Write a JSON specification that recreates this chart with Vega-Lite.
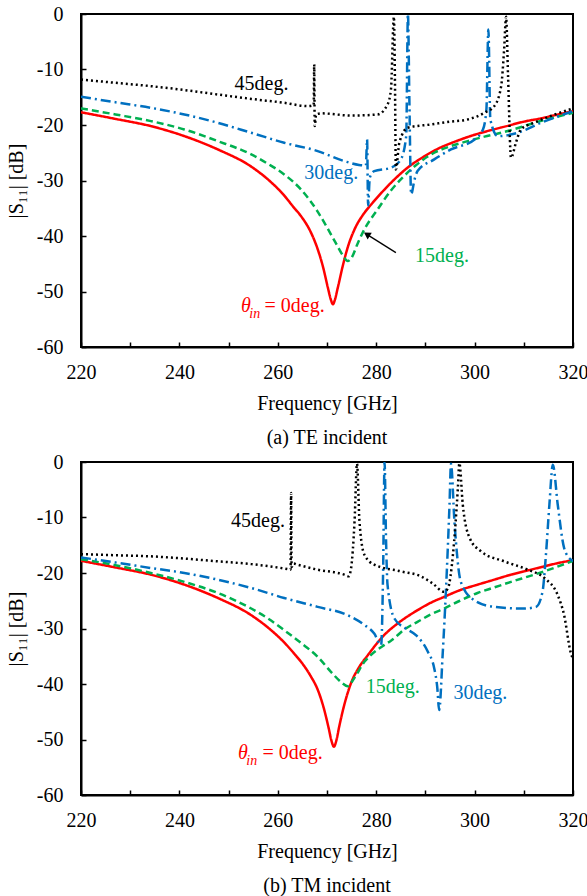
{
  "$schema": "https://vega.github.io/schema/vega-lite/v6.json",
  "padding": {"left": 5, "top": 3, "right": 5, "bottom": 3},
  "background": "white",
  "spacing": 2,
  "datasets": {
    "curves": [
      {"p":"TE","s":"0deg","f":220,"v":-17.7},{"p":"TE","s":"0deg","f":227,"v":-18.9},{"p":"TE","s":"0deg","f":234.2,"v":-20.2},{"p":"TE","s":"0deg","f":241,"v":-22.0},{"p":"TE","s":"0deg","f":247.8,"v":-24.4},{"p":"TE","s":"0deg","f":254.6,"v":-27.5},{"p":"TE","s":"0deg","f":258.5,"v":-30.2},{"p":"TE","s":"0deg","f":261.2,"v":-32.6},{"p":"TE","s":"0deg","f":263.2,"v":-34.8},{"p":"TE","s":"0deg","f":264.7,"v":-36.4},{"p":"TE","s":"0deg","f":266.7,"v":-39.3},{"p":"TE","s":"0deg","f":268,"v":-42.1},{"p":"TE","s":"0deg","f":269.2,"v":-45.6},{"p":"TE","s":"0deg","f":270.2,"v":-49.4},{"p":"TE","s":"0deg","f":270.8,"v":-51.5},{"p":"TE","s":"0deg","f":271.2,"v":-52.3},{"p":"TE","s":"0deg","f":271.6,"v":-51.5},{"p":"TE","s":"0deg","f":272.2,"v":-49.3},{"p":"TE","s":"0deg","f":273.2,"v":-45.4},{"p":"TE","s":"0deg","f":274.3,"v":-41.8},{"p":"TE","s":"0deg","f":275.6,"v":-38.8},{"p":"TE","s":"0deg","f":277.3,"v":-36.2},{"p":"TE","s":"0deg","f":279,"v":-34.3},{"p":"TE","s":"0deg","f":281.5,"v":-31.8},{"p":"TE","s":"0deg","f":283.7,"v":-29.8},{"p":"TE","s":"0deg","f":286.5,"v":-27.6},{"p":"TE","s":"0deg","f":289.5,"v":-25.8},{"p":"TE","s":"0deg","f":292.5,"v":-24.3},{"p":"TE","s":"0deg","f":296,"v":-23.0},{"p":"TE","s":"0deg","f":299.5,"v":-21.9},{"p":"TE","s":"0deg","f":303,"v":-21.0},{"p":"TE","s":"0deg","f":306.5,"v":-20.2},{"p":"TE","s":"0deg","f":310,"v":-19.4},{"p":"TE","s":"0deg","f":313.5,"v":-18.8},{"p":"TE","s":"0deg","f":317,"v":-18.1},{"p":"TE","s":"0deg","f":320,"v":-17.5},

      {"p":"TE","s":"15deg","f":220,"v":-17.0},{"p":"TE","s":"15deg","f":227,"v":-18.1},{"p":"TE","s":"15deg","f":234.2,"v":-19.3},{"p":"TE","s":"15deg","f":241,"v":-20.8},{"p":"TE","s":"15deg","f":247.8,"v":-22.9},{"p":"TE","s":"15deg","f":254.6,"v":-25.3},{"p":"TE","s":"15deg","f":258,"v":-27.0},{"p":"TE","s":"15deg","f":261.3,"v":-28.9},{"p":"TE","s":"15deg","f":264.7,"v":-31.6},{"p":"TE","s":"15deg","f":268.1,"v":-35.6},{"p":"TE","s":"15deg","f":270.1,"v":-38.6},{"p":"TE","s":"15deg","f":272.0,"v":-41.6},{"p":"TE","s":"15deg","f":273.3,"v":-43.6},{"p":"TE","s":"15deg","f":274.2,"v":-44.5},{"p":"TE","s":"15deg","f":275,"v":-43.9},{"p":"TE","s":"15deg","f":276.3,"v":-41.2},{"p":"TE","s":"15deg","f":277.6,"v":-38.8},{"p":"TE","s":"15deg","f":280.3,"v":-35.2},{"p":"TE","s":"15deg","f":283,"v":-31.8},{"p":"TE","s":"15deg","f":285,"v":-29.8},{"p":"TE","s":"15deg","f":288,"v":-27.3},{"p":"TE","s":"15deg","f":291.8,"v":-25.0},{"p":"TE","s":"15deg","f":295.2,"v":-23.8},{"p":"TE","s":"15deg","f":298.6,"v":-22.9},{"p":"TE","s":"15deg","f":302,"v":-22.1},{"p":"TE","s":"15deg","f":305.4,"v":-21.4},{"p":"TE","s":"15deg","f":309,"v":-20.5},{"p":"TE","s":"15deg","f":312.1,"v":-19.6},{"p":"TE","s":"15deg","f":316,"v":-18.7},{"p":"TE","s":"15deg","f":320,"v":-17.8},

      {"p":"TE","s":"30deg","f":220,"v":-14.9},{"p":"TE","s":"30deg","f":227,"v":-15.9},{"p":"TE","s":"30deg","f":234.2,"v":-16.9},{"p":"TE","s":"30deg","f":241,"v":-18.1},{"p":"TE","s":"30deg","f":247.8,"v":-19.6},{"p":"TE","s":"30deg","f":254.6,"v":-21.4},{"p":"TE","s":"30deg","f":261.3,"v":-23.2},{"p":"TE","s":"30deg","f":268.1,"v":-24.7},{"p":"TE","s":"30deg","f":273.5,"v":-26.5},{"p":"TE","s":"30deg","f":276.5,"v":-27.2},{"p":"TE","s":"30deg","f":277.9,"v":-27.3},{"p":"TE","s":"30deg","f":278.15,"v":-22.6},{"p":"TE","s":"30deg","f":278.35,"v":-34.5},{"p":"TE","s":"30deg","f":278.7,"v":-29.5},{"p":"TE","s":"30deg","f":279.6,"v":-28.3},{"p":"TE","s":"30deg","f":283,"v":-27.7},{"p":"TE","s":"30deg","f":285,"v":-26.2},{"p":"TE","s":"30deg","f":286.1,"v":-22.0},{"p":"TE","s":"30deg","f":286.45,"v":0},{"p":"TE","s":"30deg","f":286.75,"v":-16},{"p":"TE","s":"30deg","f":287.1,"v":-32.5},{"p":"TE","s":"30deg","f":287.8,"v":-29.8},{"p":"TE","s":"30deg","f":288.4,"v":-28.3},{"p":"TE","s":"30deg","f":291.8,"v":-26.2},{"p":"TE","s":"30deg","f":295.2,"v":-24.4},{"p":"TE","s":"30deg","f":300,"v":-22.6},{"p":"TE","s":"30deg","f":301.7,"v":-20.8},{"p":"TE","s":"30deg","f":302.4,"v":-17.2},{"p":"TE","s":"30deg","f":302.8,"v":-2.8},{"p":"TE","s":"30deg","f":303.2,"v":-19.0},{"p":"TE","s":"30deg","f":304.7,"v":-22.0},{"p":"TE","s":"30deg","f":308.8,"v":-21.4},{"p":"TE","s":"30deg","f":313.5,"v":-19.6},{"p":"TE","s":"30deg","f":320,"v":-17.5},

      {"p":"TE","s":"45deg","f":220,"v":-11.8},{"p":"TE","s":"45deg","f":227,"v":-12.4},{"p":"TE","s":"45deg","f":234.2,"v":-13.0},{"p":"TE","s":"45deg","f":241,"v":-13.7},{"p":"TE","s":"45deg","f":247.8,"v":-14.5},{"p":"TE","s":"45deg","f":254.6,"v":-15.3},{"p":"TE","s":"45deg","f":261.3,"v":-16.0},{"p":"TE","s":"45deg","f":266.1,"v":-16.6},{"p":"TE","s":"45deg","f":267.3,"v":-16.4},{"p":"TE","s":"45deg","f":267.4,"v":-9.1},{"p":"TE","s":"45deg","f":267.5,"v":-20.2},{"p":"TE","s":"45deg","f":267.8,"v":-18.1},{"p":"TE","s":"45deg","f":268.8,"v":-17.9},{"p":"TE","s":"45deg","f":274.9,"v":-18.3},{"p":"TE","s":"45deg","f":280.3,"v":-18.1},{"p":"TE","s":"45deg","f":282.3,"v":-16.3},{"p":"TE","s":"45deg","f":283,"v":-13.6},{"p":"TE","s":"45deg","f":283.6,"v":-0.5},{"p":"TE","s":"45deg","f":283.8,"v":-11.2},{"p":"TE","s":"45deg","f":284,"v":-28.0},{"p":"TE","s":"45deg","f":284.7,"v":-23.2},{"p":"TE","s":"45deg","f":286.4,"v":-20.5},{"p":"TE","s":"45deg","f":291.1,"v":-19.9},{"p":"TE","s":"45deg","f":295,"v":-19.4},{"p":"TE","s":"45deg","f":298.6,"v":-19.0},{"p":"TE","s":"45deg","f":302,"v":-17.8},{"p":"TE","s":"45deg","f":304,"v":-16.6},{"p":"TE","s":"45deg","f":305.4,"v":-13.0},{"p":"TE","s":"45deg","f":306,"v":-6.4},{"p":"TE","s":"45deg","f":306.4,"v":-0.5},{"p":"TE","s":"45deg","f":306.8,"v":-11.2},{"p":"TE","s":"45deg","f":307.4,"v":-25.9},{"p":"TE","s":"45deg","f":308.4,"v":-23.2},{"p":"TE","s":"45deg","f":309.4,"v":-20.8},{"p":"TE","s":"45deg","f":312.1,"v":-19.6},{"p":"TE","s":"45deg","f":316,"v":-18.2},{"p":"TE","s":"45deg","f":320,"v":-17.0},

      {"p":"TM","s":"0deg","f":220,"v":-17.8},{"p":"TM","s":"0deg","f":227,"v":-19.0},{"p":"TM","s":"0deg","f":234.2,"v":-20.3},{"p":"TM","s":"0deg","f":241,"v":-22.1},{"p":"TM","s":"0deg","f":247.8,"v":-24.5},{"p":"TM","s":"0deg","f":254.6,"v":-27.6},{"p":"TM","s":"0deg","f":258.5,"v":-30.2},{"p":"TM","s":"0deg","f":261.4,"v":-32.6},{"p":"TM","s":"0deg","f":263.4,"v":-34.6},{"p":"TM","s":"0deg","f":264.9,"v":-36.2},{"p":"TM","s":"0deg","f":266.7,"v":-38.6},{"p":"TM","s":"0deg","f":268.1,"v":-41.0},{"p":"TM","s":"0deg","f":269.3,"v":-44.2},{"p":"TM","s":"0deg","f":270.3,"v":-47.8},{"p":"TM","s":"0deg","f":270.9,"v":-50.2},{"p":"TM","s":"0deg","f":271.4,"v":-51.3},{"p":"TM","s":"0deg","f":271.9,"v":-50.2},{"p":"TM","s":"0deg","f":272.5,"v":-47.6},{"p":"TM","s":"0deg","f":273.5,"v":-43.8},{"p":"TM","s":"0deg","f":274.9,"v":-39.8},{"p":"TM","s":"0deg","f":276.5,"v":-37.0},{"p":"TM","s":"0deg","f":278.3,"v":-34.8},{"p":"TM","s":"0deg","f":281.6,"v":-31.2},{"p":"TM","s":"0deg","f":284.5,"v":-29.0},{"p":"TM","s":"0deg","f":288.4,"v":-26.7},{"p":"TM","s":"0deg","f":291,"v":-25.4},{"p":"TM","s":"0deg","f":293.8,"v":-24.3},{"p":"TM","s":"0deg","f":297,"v":-23.1},{"p":"TM","s":"0deg","f":300.6,"v":-22.1},{"p":"TM","s":"0deg","f":304,"v":-21.2},{"p":"TM","s":"0deg","f":307.4,"v":-20.3},{"p":"TM","s":"0deg","f":311,"v":-19.5},{"p":"TM","s":"0deg","f":314.2,"v":-18.8},{"p":"TM","s":"0deg","f":317,"v":-18.2},{"p":"TM","s":"0deg","f":320,"v":-17.7},

      {"p":"TM","s":"15deg","f":220,"v":-17.5},{"p":"TM","s":"15deg","f":227,"v":-18.6},{"p":"TM","s":"15deg","f":234.2,"v":-20.0},{"p":"TM","s":"15deg","f":241,"v":-21.6},{"p":"TM","s":"15deg","f":247.8,"v":-23.6},{"p":"TM","s":"15deg","f":254.6,"v":-26.4},{"p":"TM","s":"15deg","f":258,"v":-28.2},{"p":"TM","s":"15deg","f":261.3,"v":-30.3},{"p":"TM","s":"15deg","f":264.7,"v":-32.6},{"p":"TM","s":"15deg","f":268.1,"v":-35.1},{"p":"TM","s":"15deg","f":270.8,"v":-37.8},{"p":"TM","s":"15deg","f":272.8,"v":-39.6},{"p":"TM","s":"15deg","f":274.2,"v":-40.4},{"p":"TM","s":"15deg","f":275.5,"v":-39.0},{"p":"TM","s":"15deg","f":277.6,"v":-36.0},{"p":"TM","s":"15deg","f":278.9,"v":-34.8},{"p":"TM","s":"15deg","f":281.6,"v":-33.0},{"p":"TM","s":"15deg","f":283,"v":-32.2},{"p":"TM","s":"15deg","f":286,"v":-30.0},{"p":"TM","s":"15deg","f":288.4,"v":-28.8},{"p":"TM","s":"15deg","f":291,"v":-27.5},{"p":"TM","s":"15deg","f":293.8,"v":-26.4},{"p":"TM","s":"15deg","f":297,"v":-25.0},{"p":"TM","s":"15deg","f":300.6,"v":-23.6},{"p":"TM","s":"15deg","f":304,"v":-22.6},{"p":"TM","s":"15deg","f":307.4,"v":-21.6},{"p":"TM","s":"15deg","f":311,"v":-20.6},{"p":"TM","s":"15deg","f":314.2,"v":-19.7},{"p":"TM","s":"15deg","f":317,"v":-18.8},{"p":"TM","s":"15deg","f":320,"v":-17.8},

      {"p":"TM","s":"30deg","f":220,"v":-17.2},{"p":"TM","s":"30deg","f":227,"v":-18.1},{"p":"TM","s":"30deg","f":234.2,"v":-19.1},{"p":"TM","s":"30deg","f":241,"v":-20.0},{"p":"TM","s":"30deg","f":247.8,"v":-21.2},{"p":"TM","s":"30deg","f":254.6,"v":-22.7},{"p":"TM","s":"30deg","f":261.3,"v":-24.5},{"p":"TM","s":"30deg","f":268.1,"v":-26.1},{"p":"TM","s":"30deg","f":274.2,"v":-27.6},{"p":"TM","s":"30deg","f":277.5,"v":-29.3},{"p":"TM","s":"30deg","f":279.6,"v":-30.9},{"p":"TM","s":"30deg","f":281,"v":-33.0},{"p":"TM","s":"30deg","f":281.4,"v":-20},{"p":"TM","s":"30deg","f":281.7,"v":0},{"p":"TM","s":"30deg","f":282,"v":-14},{"p":"TM","s":"30deg","f":282.3,"v":-22.1},{"p":"TM","s":"30deg","f":283.7,"v":-28.2},{"p":"TM","s":"30deg","f":286,"v":-30.0},{"p":"TM","s":"30deg","f":288.2,"v":-31.3},{"p":"TM","s":"30deg","f":290.5,"v":-34.2},{"p":"TM","s":"30deg","f":291.8,"v":-37.2},{"p":"TM","s":"30deg","f":292.4,"v":-40.5},{"p":"TM","s":"30deg","f":292.8,"v":-44.7},{"p":"TM","s":"30deg","f":293.5,"v":-34.8},{"p":"TM","s":"30deg","f":294.2,"v":-22.7},{"p":"TM","s":"30deg","f":294.9,"v":-7.7},{"p":"TM","s":"30deg","f":295.2,"v":-0.3},{"p":"TM","s":"30deg","f":295.9,"v":-10.7},{"p":"TM","s":"30deg","f":297.2,"v":-21.6},{"p":"TM","s":"30deg","f":299.9,"v":-24.9},{"p":"TM","s":"30deg","f":304,"v":-26.1},{"p":"TM","s":"30deg","f":310.1,"v":-26.4},{"p":"TM","s":"30deg","f":312.5,"v":-26.1},{"p":"TM","s":"30deg","f":313.8,"v":-23.4},{"p":"TM","s":"30deg","f":314.5,"v":-16.7},{"p":"TM","s":"30deg","f":315.2,"v":-7.7},{"p":"TM","s":"30deg","f":315.9,"v":-0.5},{"p":"TM","s":"30deg","f":316.9,"v":-7.7},{"p":"TM","s":"30deg","f":318.2,"v":-15.5},{"p":"TM","s":"30deg","f":319.6,"v":-17.6},{"p":"TM","s":"30deg","f":320,"v":-17.8},

      {"p":"TM","s":"45deg","f":220,"v":-16.6},{"p":"TM","s":"45deg","f":227,"v":-16.8},{"p":"TM","s":"45deg","f":234.2,"v":-17.0},{"p":"TM","s":"45deg","f":241,"v":-17.4},{"p":"TM","s":"45deg","f":247.8,"v":-17.9},{"p":"TM","s":"45deg","f":254.6,"v":-18.4},{"p":"TM","s":"45deg","f":262,"v":-19.3},{"p":"TM","s":"45deg","f":262.6,"v":-19.4},{"p":"TM","s":"45deg","f":262.7,"v":-5.6},{"p":"TM","s":"45deg","f":262.8,"v":-18.9},{"p":"TM","s":"45deg","f":263.2,"v":-18.3},{"p":"TM","s":"45deg","f":264,"v":-18.5},{"p":"TM","s":"45deg","f":268.1,"v":-19.4},{"p":"TM","s":"45deg","f":273.5,"v":-20.3},{"p":"TM","s":"45deg","f":274.4,"v":-20.6},{"p":"TM","s":"45deg","f":274.9,"v":-19.1},{"p":"TM","s":"45deg","f":275.6,"v":-10.7},{"p":"TM","s":"45deg","f":276.1,"v":-0.3},{"p":"TM","s":"45deg","f":276.6,"v":-10.7},{"p":"TM","s":"45deg","f":277.6,"v":-16.7},{"p":"TM","s":"45deg","f":279.6,"v":-18.5},{"p":"TM","s":"45deg","f":285,"v":-19.7},{"p":"TM","s":"45deg","f":289.1,"v":-20.6},{"p":"TM","s":"45deg","f":291.5,"v":-21.9},{"p":"TM","s":"45deg","f":293.8,"v":-23.4},{"p":"TM","s":"45deg","f":294.6,"v":-22.7},{"p":"TM","s":"45deg","f":295.6,"v":-16.7},{"p":"TM","s":"45deg","f":296.6,"v":-4.7},{"p":"TM","s":"45deg","f":296.9,"v":-0.2},{"p":"TM","s":"45deg","f":297.6,"v":-7.7},{"p":"TM","s":"45deg","f":299,"v":-13.7},{"p":"TM","s":"45deg","f":301.3,"v":-16.1},{"p":"TM","s":"45deg","f":306,"v":-17.9},{"p":"TM","s":"45deg","f":310.8,"v":-19.4},{"p":"TM","s":"45deg","f":314.2,"v":-20.9},{"p":"TM","s":"45deg","f":316.9,"v":-24.0},{"p":"TM","s":"45deg","f":318.2,"v":-27.6},{"p":"TM","s":"45deg","f":319.5,"v":-34.2},{"p":"TM","s":"45deg","f":320,"v":-35.5}
    ],
    "labels": [
      {"p":"TE","s":"45deg","f":251.2,"v":-12.7,"t":"45deg."},
      {"p":"TE","s":"30deg","f":265.4,"v":-28.6,"t":"30deg."},
      {"p":"TE","s":"15deg","f":287.9,"v":-43.6,"t":"15deg."},
      {"p":"TE","s":"0deg","f":257.3,"v":-52.6,"t":"= 0deg."},
      {"p":"TM","s":"45deg","f":250.5,"v":-10.7,"t":"45deg."},
      {"p":"TM","s":"15deg","f":277.9,"v":-40.5,"t":"15deg."},
      {"p":"TM","s":"30deg","f":295.7,"v":-41.7,"t":"30deg."},
      {"p":"TM","s":"0deg","f":256.9,"v":-52.5,"t":"= 0deg."}
    ],
    "theta": [
      {"p":"TE","s":"0deg","f":252.5,"v":-52.6,"t":"θ"},
      {"p":"TM","s":"0deg","f":251.9,"v":-52.5,"t":"θ"}
    ],
    "sub": [
      {"p":"TE","s":"0deg","f":254.2,"v":-54.0,"t":"in"},
      {"p":"TM","s":"0deg","f":253.6,"v":-53.9,"t":"in"}
    ],
    "arrow": [
      {"p":"TE","f":284.0,"v":-43.0,"f2":278.1,"v2":-39.7}
    ]
  },
  "vconcat": [
    {
      "width": 492, "height": 333,
      "title": {"text": "(a) TE incident", "orient": "bottom", "offset": 15},
      "layer": [
        {"data": {"name": "curves"}, "transform": [{"filter": "datum.p == 'TE'"}], "mark": {"type": "line", "strokeWidth": 2.5, "interpolate": "monotone", "clip": true},
         "encoding": {
           "x": {"field": "f", "type": "quantitative", "scale": {"domain": [220, 320], "nice": false, "zero": false}, "axis": {"title": "Frequency [GHz]", "values": [220,230,240,250,260,270,280,290,300,310,320], "labelExpr": "datum.value % 20 == 0 ? '' + datum.value : ''", "labelPadding": 20, "titlePadding": 11}},
           "y": {"field": "v", "type": "quantitative", "scale": {"domain": [-60, 0], "nice": false, "zero": false}, "axis": {"title": "|S₁₁| [dB]", "values": [-60,-55,-50,-45,-40,-35,-30,-25,-20,-15,-10,-5,0], "labelExpr": "datum.value % 10 == 0 ? '' + datum.value : ''", "labelPadding": 23, "titlePadding": 10}},
           "color": {"field": "s", "type": "nominal", "scale": {"domain": ["0deg","15deg","30deg","45deg"], "range": ["#FF0000","#00B050","#0070C0","#000000"]}, "legend": null},
           "strokeDash": {"field": "s", "type": "nominal", "scale": {"domain": ["0deg","15deg","30deg","45deg"], "range": [[1,0],[7,4],[10,4,2,4],[2,3]]}, "legend": null}
         }},
        {"data": {"name": "labels"}, "transform": [{"filter": "datum.p == 'TE'"}], "mark": {"type": "text", "align": "left", "baseline": "middle", "fontSize": 20},
         "encoding": {"x": {"field": "f", "type": "quantitative"}, "y": {"field": "v", "type": "quantitative"}, "text": {"field": "t"}, "color": {"field": "s", "type": "nominal", "legend": null}}},
        {"data": {"name": "theta"}, "transform": [{"filter": "datum.p == 'TE'"}], "mark": {"type": "text", "align": "left", "baseline": "middle", "fontSize": 20, "fontStyle": "italic"},
         "encoding": {"x": {"field": "f", "type": "quantitative"}, "y": {"field": "v", "type": "quantitative"}, "text": {"field": "t"}, "color": {"field": "s", "type": "nominal", "legend": null}}},
        {"data": {"name": "sub"}, "transform": [{"filter": "datum.p == 'TE'"}], "mark": {"type": "text", "align": "left", "baseline": "middle", "fontSize": 14, "fontStyle": "italic"},
         "encoding": {"x": {"field": "f", "type": "quantitative"}, "y": {"field": "v", "type": "quantitative"}, "text": {"field": "t"}, "color": {"field": "s", "type": "nominal", "legend": null}}},
        {"data": {"name": "arrow"}, "transform": [{"filter": "datum.p == 'TE'"}], "mark": {"type": "rule", "color": "#000", "strokeWidth": 1.3},
         "encoding": {"x": {"field": "f", "type": "quantitative"}, "y": {"field": "v", "type": "quantitative"}, "x2": {"field": "f2"}, "y2": {"field": "v2"}}},
        {"data": {"name": "arrow"}, "transform": [{"filter": "datum.p == 'TE'"}], "mark": {"type": "point", "shape": "triangle-up", "filled": true, "color": "#000", "size": 60, "angle": 302, "opacity": 1},
         "encoding": {"x": {"field": "f2", "type": "quantitative"}, "y": {"field": "v2", "type": "quantitative"}}}
      ]
    },
    {
      "width": 492, "height": 333,
      "title": {"text": "(b) TM incident", "orient": "bottom", "offset": 15},
      "layer": [
        {"data": {"name": "curves"}, "transform": [{"filter": "datum.p == 'TM'"}], "mark": {"type": "line", "strokeWidth": 2.5, "interpolate": "monotone", "clip": true},
         "encoding": {
           "x": {"field": "f", "type": "quantitative", "scale": {"domain": [220, 320], "nice": false, "zero": false}, "axis": {"title": "Frequency [GHz]", "values": [220,230,240,250,260,270,280,290,300,310,320], "labelExpr": "datum.value % 20 == 0 ? '' + datum.value : ''", "labelPadding": 20, "titlePadding": 11}},
           "y": {"field": "v", "type": "quantitative", "scale": {"domain": [-60, 0], "nice": false, "zero": false}, "axis": {"title": "|S₁₁| [dB]", "values": [-60,-55,-50,-45,-40,-35,-30,-25,-20,-15,-10,-5,0], "labelExpr": "datum.value % 10 == 0 ? '' + datum.value : ''", "labelPadding": 23, "titlePadding": 10}},
           "color": {"field": "s", "type": "nominal", "scale": {"domain": ["0deg","15deg","30deg","45deg"], "range": ["#FF0000","#00B050","#0070C0","#000000"]}, "legend": null},
           "strokeDash": {"field": "s", "type": "nominal", "scale": {"domain": ["0deg","15deg","30deg","45deg"], "range": [[1,0],[7,4],[10,4,2,4],[2,3]]}, "legend": null}
         }},
        {"data": {"name": "labels"}, "transform": [{"filter": "datum.p == 'TM'"}], "mark": {"type": "text", "align": "left", "baseline": "middle", "fontSize": 20},
         "encoding": {"x": {"field": "f", "type": "quantitative"}, "y": {"field": "v", "type": "quantitative"}, "text": {"field": "t"}, "color": {"field": "s", "type": "nominal", "legend": null}}},
        {"data": {"name": "theta"}, "transform": [{"filter": "datum.p == 'TM'"}], "mark": {"type": "text", "align": "left", "baseline": "middle", "fontSize": 20, "fontStyle": "italic"},
         "encoding": {"x": {"field": "f", "type": "quantitative"}, "y": {"field": "v", "type": "quantitative"}, "text": {"field": "t"}, "color": {"field": "s", "type": "nominal", "legend": null}}},
        {"data": {"name": "sub"}, "transform": [{"filter": "datum.p == 'TM'"}], "mark": {"type": "text", "align": "left", "baseline": "middle", "fontSize": 14, "fontStyle": "italic"},
         "encoding": {"x": {"field": "f", "type": "quantitative"}, "y": {"field": "v", "type": "quantitative"}, "text": {"field": "t"}, "color": {"field": "s", "type": "nominal", "legend": null}}}
      ]
    }
  ],
  "config": {
    "font": "'Liberation Serif', 'Times New Roman', serif",
    "text": {"font": "'Liberation Serif', 'Times New Roman', serif"},
    "view": {"stroke": "#000", "strokeWidth": 2},
    "axis": {"grid": false, "domainColor": "#000", "domainWidth": 2, "tickColor": "#000", "tickWidth": 1.5, "tickSize": -5, "labelFont": "'Liberation Serif', 'Times New Roman', serif", "labelFontSize": 20, "labelColor": "#000", "titleFont": "'Liberation Serif', 'Times New Roman', serif", "titleFontSize": 20, "titleFontWeight": "normal", "titleColor": "#000", "labelOverlap": false, "labelFlush": false, "labelBound": false},
    "title": {"font": "'Liberation Serif', 'Times New Roman', serif", "fontSize": 20, "fontWeight": "normal", "color": "#000", "anchor": "middle"}
  }
}
